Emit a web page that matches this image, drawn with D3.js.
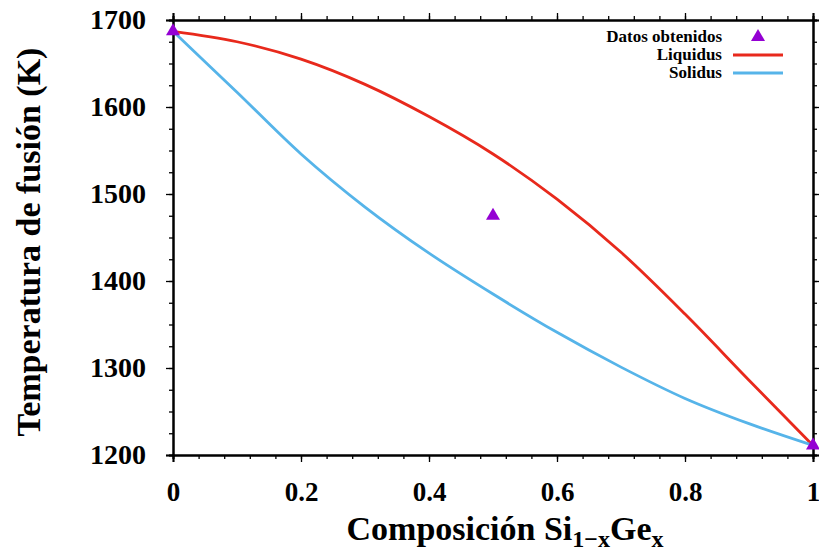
<!DOCTYPE html>
<html><head><meta charset="utf-8">
<script src="https://cdn.jsdelivr.net/npm/d3@7"></script>
<style>body{margin:0;background:#fff}svg{display:block}text{font-family:"Liberation Serif","Times New Roman",serif;font-weight:bold}</style>
</head><body><svg id="c" width="819" height="558"></svg>
<script>
const composition = [0, 0.1, 0.2, 0.3, 0.4, 0.5, 0.6, 0.7, 0.8, 0.9, 1.0];
const liquidus = [1687, 1675, 1655, 1626, 1589, 1546, 1494, 1433, 1362, 1286, 1211];
const solidus  = [1687, 1617, 1546, 1485, 1432, 1385, 1341, 1301, 1265, 1236, 1211];
const measuredX = [0, 0.5, 1];
const measuredT = [1687, 1475, 1211];
const xTicks = [0, 0.2, 0.4, 0.6, 0.8, 1];
const xTickLabels = ["0", "0.2", "0.4", "0.6", "0.8", "1"];
const yTicks = [1200, 1300, 1400, 1500, 1600, 1700];
const seriesNames = ["Datos obtenidos", "Liquidus", "Solidus"];
const colors = {pts: "#9400d3", liq: "#e8291c", sol: "#56b4e9"};

const svg = d3.select("#c");
const L = 173, R = 813, T = 20, B = 455;
const x = d3.scaleLinear().domain([0, 1]).range([L, R]);
const y = d3.scaleLinear().domain([1200, 1700]).range([B, T]);
const xMinor = d3.range(0, 1.0001, 0.04);
const yMinor = d3.range(1200, 1700.1, 25);

function minorAxis(gen, scale, vals, size) {
  return gen(scale).tickValues(vals).tickSize(size).tickFormat("");
}
function styleAxis(g) {
  g.select(".domain").attr("stroke", "#000").attr("stroke-width", 2);
  g.selectAll(".tick line").attr("stroke", "#000").attr("stroke-width", 1.3);
}
// bottom
svg.append("g").attr("transform", `translate(0,${B})`).call(minorAxis(d3.axisBottom, x, xMinor, 4)).call(styleAxis);
const gb = svg.append("g").attr("transform", `translate(0,${B})`)
  .call(d3.axisBottom(x).tickValues(xTicks).tickSize(7).tickPadding(20).tickFormat((d, i) => xTickLabels[i])).call(styleAxis);
gb.selectAll("text").attr("font-size", 27).attr("fill", "#000");
// top
svg.append("g").attr("transform", `translate(0,${T})`).call(minorAxis(d3.axisTop, x, xMinor, 4)).call(styleAxis);
svg.append("g").attr("transform", `translate(0,${T})`).call(minorAxis(d3.axisTop, x, xTicks, 7)).call(styleAxis);
// left
svg.append("g").attr("transform", `translate(${L},0)`).call(minorAxis(d3.axisLeft, y, yMinor, 4)).call(styleAxis);
const gl = svg.append("g").attr("transform", `translate(${L},0)`)
  .call(d3.axisLeft(y).tickValues(yTicks).tickSize(7).tickPadding(20).tickFormat(d3.format("d"))).call(styleAxis);
gl.selectAll("text").attr("font-size", 28).attr("fill", "#000");
// right
svg.append("g").attr("transform", `translate(${R},0)`).call(minorAxis(d3.axisRight, y, yMinor, 4)).call(styleAxis);
svg.append("g").attr("transform", `translate(${R},0)`).call(minorAxis(d3.axisRight, y, yTicks, 7)).call(styleAxis);

// curves
const line = d3.line().x(d => x(d[0])).y(d => y(d[1])).curve(d3.curveCatmullRom.alpha(0.5));
svg.append("path").datum(composition.map((c, i) => [c, liquidus[i]]))
  .attr("d", line).attr("fill", "none").attr("stroke", colors.liq).attr("stroke-width", 2.8);
svg.append("path").datum(composition.map((c, i) => [c, solidus[i]]))
  .attr("d", line).attr("fill", "none").attr("stroke", colors.sol).attr("stroke-width", 2.8);

// points
const tri = d3.symbol().type(d3.symbolTriangle).size(85);
svg.selectAll(".pt").data(measuredX.map((c, i) => [c, measuredT[i]])).enter().append("path")
  .attr("d", tri).attr("transform", d => `translate(${x(d[0])},${y(d[1])})`).attr("fill", colors.pts);

// legend
const lg = svg.append("g");
const rowsY = [37, 55, 73];
seriesNames.forEach((n, i) => {
  lg.append("text").attr("x", 722).attr("y", rowsY[i] + 5).attr("text-anchor", "end")
    .attr("font-size", 17).text(n);
});
lg.append("path").attr("d", tri).attr("transform", `translate(758,${rowsY[0]})`).attr("fill", colors.pts);
lg.append("line").attr("x1", 733).attr("x2", 783).attr("y1", rowsY[1]).attr("y2", rowsY[1]).attr("stroke", colors.liq).attr("stroke-width", 2.8);
lg.append("line").attr("x1", 733).attr("x2", 783).attr("y1", rowsY[2]).attr("y2", rowsY[2]).attr("stroke", colors.sol).attr("stroke-width", 2.8);

// axis titles
const xt = svg.append("text").attr("x", 505).attr("y", 540).attr("text-anchor", "middle").attr("font-size", 34);
xt.append("tspan").text("Composición Si");
xt.append("tspan").attr("font-size", 24).attr("dy", 7).text("1−x");
xt.append("tspan").attr("dy", -7).text("Ge");
xt.append("tspan").attr("font-size", 24).attr("dy", 7).text("x");
svg.append("text").attr("transform", "translate(40,242) rotate(-90)").attr("text-anchor", "middle")
  .attr("font-size", 34).text("Temperatura de fusión (K)");
</script></body></html>
